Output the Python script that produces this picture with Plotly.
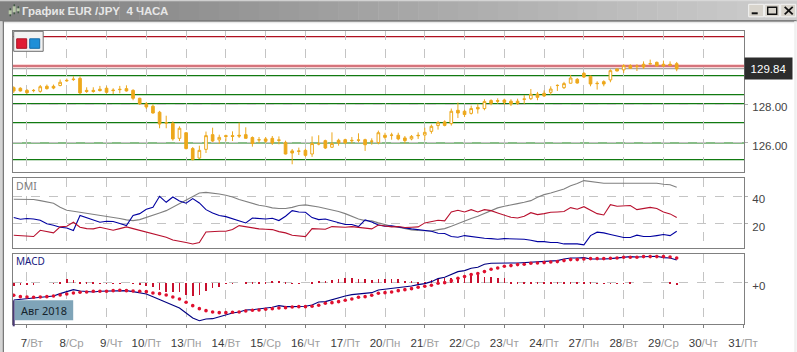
import plotly.graph_objects as go

W, H = 797, 352
ML, MR, MT, MB = 13.3, 52.7, 30.7, 28.3

day_labels = ["7/Вт", "8/Ср", "9/Чт", "10/Пт", "13/Пн", "14/Вт", "15/Ср", "16/Чт", "17/Пт", "20/Пн",
              "21/Вт", "22/Ср", "23/Чт", "24/Пт", "27/Пн", "28/Вт", "29/Ср", "30/Чт", "31/Пт"]
bars_per_day = 6
first_tick_bar = 2

high = [128.93,128.88,128.79,128.79,129.00,129.02,129.02,129.28,129.33,129.45,129.45,128.88,128.88,128.95,128.93,128.83,128.95,128.98,128.78,128.34,
        128.12,128.00,127.66,127.41,127.12,126.86,126.55,125.79,125.86,126.59,126.79,126.43,126.43,126.60,127.05,126.81,126.34,126.31,126.31,126.36,
        126.34,126.12,125.69,125.76,125.72,126.34,126.40,126.17,126.55,126.22,126.22,126.31,126.50,126.22,126.24,126.64,126.53,126.53,126.53,126.36,
        126.41,126.55,126.79,126.95,127.14,127.17,127.78,128.09,127.72,127.93,128.03,128.26,128.26,128.31,128.29,128.26,128.29,128.48,128.79,128.64,
        128.72,128.93,129.03,129.16,129.52,129.36,129.67,129.48,129.19,129.24,129.81,129.84,130.07,130.07,130.07,130.22,130.31,130.21,130.26,130.22,130.19]
low = [128.59,128.66,128.55,128.62,128.60,128.76,128.78,128.93,129.16,129.21,128.53,128.59,128.60,128.66,128.57,128.53,128.57,128.66,128.21,127.97,
       127.76,127.52,126.76,126.76,126.12,126.10,125.67,125.10,125.17,125.48,126.05,125.95,126.09,126.10,126.26,126.24,125.81,126.00,126.00,125.90,
       125.93,125.41,124.90,125.38,125.28,125.28,125.88,125.69,125.74,125.86,125.93,125.97,126.03,125.59,125.91,125.93,126.19,126.17,126.14,125.97,
       126.14,126.21,126.14,126.48,126.69,126.86,126.90,127.29,127.34,127.47,127.52,127.69,127.95,128.03,127.97,127.91,127.97,128.02,128.22,128.21,
       128.38,128.50,128.69,128.79,129.07,129.07,129.36,128.93,128.76,128.93,129.14,129.71,129.62,129.83,129.72,129.83,130.07,129.97,129.93,129.97,129.71]
open_ = [128.86,128.83,128.72,128.72,128.67,128.93,128.93,128.97,129.24,129.31,129.34,128.72,128.72,128.78,128.83,128.74,128.78,128.81,128.72,128.31,
         128.02,127.90,127.59,127.05,127.02,126.24,126.53,125.71,125.22,125.67,126.43,126.16,126.38,126.38,126.40,126.43,126.28,126.17,126.21,126.24,
         126.16,126.03,125.59,125.59,125.62,125.43,125.97,126.12,125.78,126.14,126.17,126.14,126.16,126.17,126.10,126.02,126.40,126.41,126.40,126.26,
         126.21,126.40,126.41,126.60,126.90,127.09,127.00,127.69,127.64,127.53,127.84,127.78,128.19,128.19,128.22,128.16,128.16,128.28,128.29,128.53,
         128.57,128.62,128.98,128.86,129.09,129.29,129.60,129.45,129.09,129.17,129.26,129.83,129.78,130.00,129.97,130.07,130.10,130.17,130.07,130.07,130.10]
close = [128.69,128.69,128.60,128.71,128.91,128.81,128.84,129.14,129.22,129.28,128.59,128.66,128.66,128.71,128.62,128.71,128.76,128.69,128.31,128.03,
         127.86,127.55,126.98,127.03,126.21,126.76,125.71,125.14,125.62,126.38,126.10,126.29,126.34,126.34,126.36,126.24,125.97,126.16,126.09,126.00,
         126.14,125.43,125.48,125.57,125.36,125.97,125.95,125.74,125.97,126.00,126.00,126.12,126.14,125.91,126.09,126.53,126.29,126.40,126.21,126.12,
         126.34,126.38,126.55,126.86,127.05,126.91,127.64,127.55,127.47,127.78,127.76,128.14,128.05,128.16,128.10,128.02,128.05,128.26,128.52,128.36,
         128.43,128.79,128.97,129.07,129.36,129.10,129.41,129.05,129.07,129.05,129.74,129.72,130.00,129.86,129.95,129.93,130.09,129.98,129.98,130.02,129.83]

red_levels = [131.50, 129.98]
current_price = 129.84
green_levels = [129.48, 128.50, 128.03, 127.05, 126.00, 125.14]

adx = [37.8,37.8,37.8,37.6,36.8,35.8,34.9,31.9,29.8,29.0,28.3,27.3,26.6,25.9,25.1,24.4,23.7,22.7,22.2,22.9,
       24.4,25.9,27.8,29.5,32.2,34.4,37.6,40.0,42.4,42.9,42.4,41.7,40.7,39.5,37.6,36.1,34.4,33.4,32.7,31.5,
       31.0,31.0,31.9,33.2,33.7,33.2,32.2,31.0,30.0,28.8,27.3,25.4,23.4,22.2,22.0,20.5,19.0,18.0,17.3,
       16.3,15.4,14.9,14.6,14.6,15.6,16.3,18.0,20.0,22.0,23.7,25.4,27.3,29.3,31.5,32.7,33.4,34.6,35.6,36.8,
       39.3,41.2,42.4,43.9,45.4,47.8,49.3,51.5,50.7,49.8,49.5,49.5,49.5,49.8,50.0,50.0,50.0,49.8,49.5,48.8,48.5,46.6]
di_plus = [24.4,23.2,23.7,23.4,22.4,19.8,18.8,17.3,16.8,14.9,25.9,24.4,22.9,21.0,21.7,21.5,20.0,18.5,25.9,27.3,
           30.5,31.9,40.0,35.6,39.5,36.6,34.9,38.3,35.1,30.2,27.8,25.9,25.1,23.7,22.0,20.5,24.1,23.9,23.4,23.9,
           22.2,25.4,29.5,28.5,28.3,24.4,22.9,23.4,22.2,20.5,19.3,19.3,17.8,22.7,21.2,19.0,18.0,18.3,17.3,
           16.8,16.1,15.6,14.6,14.4,12.9,12.7,10.5,10.0,11.2,10.5,10.2,9.3,9.0,8.5,9.0,9.0,9.0,8.5,7.8,
           6.8,6.8,6.1,6.1,5.1,5.1,5.1,4.4,11.2,13.7,13.2,12.0,11.0,9.8,9.8,11.5,10.5,10.5,11.2,12.0,11.2,14.4]
di_minus = [11.5,11.2,10.5,10.5,15.1,14.4,13.2,17.6,18.0,21.0,17.3,16.3,16.1,17.3,16.1,15.1,16.3,17.6,16.3,15.1,
            13.9,12.7,11.2,10.0,8.0,7.3,6.1,5.1,6.1,13.9,14.4,14.4,14.4,15.6,18.5,17.6,16.8,16.1,15.8,15.6,
            14.1,13.2,11.5,11.2,10.5,16.3,16.3,15.8,17.8,17.6,17.3,17.8,17.1,16.6,16.1,19.0,18.5,17.6,17.8,
            17.1,17.3,17.6,20.5,21.2,22.4,22.0,28.5,29.8,28.5,30.2,28.5,30.2,29.5,27.8,26.1,24.6,24.1,25.4,28.0,
            26.6,27.3,28.3,28.5,28.8,31.7,30.5,32.4,30.0,27.3,26.3,33.9,32.7,33.2,33.2,30.2,31.2,31.9,31.0,28.5,27.1,24.4]

macd_line = [-.51,-.49,-.49,-.47,-.45,-.42,-.39,-.32,-.26,-.20,-.24,-.26,-.27,-.25,-.24,-.25,-.24,-.23,-.26,-.29,
             -.33,-.41,-.50,-.58,-.67,-.75,-.90,-1.05,-1.13,-1.08,-1.07,-1.01,-.94,-.90,-.87,-.81,-.80,-.78,-.75,-.73,
             -.68,-.71,-.71,-.70,-.70,-.66,-.57,-.56,-.50,-.46,-.39,-.35,-.33,-.30,-.29,-.21,-.19,-.17,-.13,
             -.11,-.09,-.05,-.02,.04,.13,.17,.25,.34,.37,.44,.47,.56,.59,.60,.60,.60,.60,.61,.64,
             .65,.65,.67,.67,.72,.75,.75,.76,.72,.71,.72,.73,.75,.78,.79,.78,.79,.80,.80,.76,.75,.69]
macd_signal = [-.37,-.41,-.42,-.43,-.42,-.41,-.39,-.36,-.33,-.30,-.28,-.27,-.25,-.25,-.25,-.23,-.22,-.23,-.24,-.25,
               -.26,-.30,-.32,-.36,-.42,-.48,-.58,-.68,-.77,-.83,-.87,-.89,-.89,-.88,-.87,-.84,-.82,-.81,-.79,-.77,
               -.75,-.74,-.72,-.71,-.71,-.70,-.67,-.61,-.59,-.56,-.52,-.48,-.43,-.41,-.37,-.31,-.29,-.27,-.23,
               -.20,-.17,-.13,-.10,-.07,-.01,.01,.07,.14,.19,.25,.28,.34,.41,.45,.50,.52,.55,.56,.59,
               .60,.61,.63,.64,.67,.70,.70,.72,.73,.73,.73,.74,.75,.77,.77,.77,.79,.79,.79,.79,.78,.75]
macd_hist = [-.08,-.06,-.04,-.02,0,0,.01,.04,.12,.10,.04,.03,.02,.01,.01,.01,.01,0,-.01,-.02,
             -.07,-.10,-.20,-.25,-.27,-.27,-.36,-.37,-.35,-.22,-.15,-.12,-.01,.01,0,.02,.04,.03,.04,.08,
             .06,.02,.01,.01,0,.05,.07,.08,.11,.12,.15,.15,.14,.13,.11,.13,.14,.14,.14,
             .08,.07,.05,.04,.10,.13,.15,.16,.19,.24,.30,.24,.20,.18,.17,.15,.05,.05,.03,.03,
             .03,.03,.04,.04,.04,.05,.04,.04,.02,.01,.01,.01,.01,.01,.02,0,0,0,0,0,.03,-.06]

n = len(high)
for s in (low, open_, close, adx, di_plus, di_minus, macd_line, macd_signal, macd_hist):
    assert len(s) == n, len(s)
bars = list(range(n))
tick_bars = [first_tick_bar + k * bars_per_day for k in range(len(day_labels))]
tick_text = []
for s in day_labels:
    d, w = s.split("/")
    pad = "&nbsp;&nbsp;&nbsp;" if len(d) == 1 else ""
    tick_text.append('%s<span style="color:#3a3a3a">%s</span><span style="color:#a0a0a0">/%s</span>' % (pad, d, w))

ORANGE = "#eda81c"
AXFONT = "Liberation Sans"
PW, PH = W - ML - MR, H - MT - MB
def px(x): return (x - ML) / PW
def py(y): return 1 - (y - MT) / PH

fig = go.Figure()
fig.add_trace(go.Candlestick(x=bars, open=open_, high=high, low=low, close=close, xaxis="x", yaxis="y",
    whiskerwidth=0,
    increasing=dict(line=dict(color=ORANGE, width=1), fillcolor="#ffffff"),
    decreasing=dict(line=dict(color=ORANGE, width=1), fillcolor=ORANGE), showlegend=False, hoverinfo="skip"))
for ys, c in ((adx, "#808080"), (di_plus, "#0000a0"), (di_minus, "#b8102e")):
    fig.add_trace(go.Scatter(x=bars, y=ys, mode="lines", line=dict(color=c, width=1.1), xaxis="x2", yaxis="y2", showlegend=False, hoverinfo="skip"))
fig.add_trace(go.Bar(x=bars, y=macd_hist, width=0.1, marker=dict(color="#c8102e", line=dict(width=0)), xaxis="x3", yaxis="y3", showlegend=False, hoverinfo="skip"))
fig.add_trace(go.Scatter(x=bars, y=macd_line, mode="lines", line=dict(color="#000080", width=1.1), xaxis="x3", yaxis="y3", showlegend=False, hoverinfo="skip"))
fig.add_trace(go.Scatter(x=bars, y=macd_signal, mode="markers", marker=dict(color="#e0102f", size=3.6, symbol="circle"), xaxis="x3", yaxis="y3", showlegend=False, hoverinfo="skip"))

shapes = []
for lv in green_levels:
    shapes.append(dict(type="line", xref="paper", yref="y", x0=0, x1=1, y0=lv, y1=lv, line=dict(color="#117a11", width=1.2), layer="below"))
shapes.append(dict(type="line", xref="paper", yref="y", x0=0, x1=1, y0=red_levels[1], y1=red_levels[1], line=dict(color="#fbd8d8", width=4), layer="below"))
for lv in red_levels:
    shapes.append(dict(type="line", xref="paper", yref="y", x0=0, x1=1, y0=lv, y1=lv, line=dict(color="#b01020", width=1.2), layer="below"))
shapes.append(dict(type="line", xref="paper", yref="y", x0=0, x1=1, y0=current_price, y1=current_price, line=dict(color="#909090", width=1), layer="below"))

def rect(x0, y0, x1, y1, fill, line=None, lw=0):
    shapes.append(dict(type="rect", xref="paper", yref="paper", x0=px(x0), x1=px(x1), y0=py(y0), y1=py(y1),
                       fillcolor=fill, line=dict(color=line or fill, width=lw)))

# window chrome: title bar gradient, frame
strips = 40
for k in range(strips):
    t = k / (strips - 1)
    g = int(128 + t * (205 - 128))
    rect(W * k / strips, 0, W * (k + 1) / strips + 0.5, 20, "rgb(%d,%d,%d)" % (g, g, g))
rect(0, 0, W, 1, "#d8d8d8")
rect(0, 20, W, 21.5, "#5a5a5a")
rect(0, 21.5, W, 23, "#e8e8e8")
rect(0, 21, 3, H, "#d4d4d4")
rect(3, 21, 4.2, H, "#6a6a6a")
rect(794.5, 21, W, H, "#f0f0f0")
# title icon
for xa, ya, yb in ((10, 8, 16), (14, 4, 14), (18, 6, 13)):
    rect(xa, ya, xa + 1, yb, "#24482a")
    rect(xa - 1, ya + 2, xa + 2, yb - 2, "#b8c8a8")
# window buttons
for x0 in (749, 765, 781):
    rect(x0, 4, x0 + 15, 16.5, "#d8d4cc", "#f4f4f4", 1)
rect(752, 12, 758, 14, "#101010")
rect(768, 7, 777, 14, "#d8d4cc", "#101010", 1.4)
shapes.append(dict(type="line", xref="paper", yref="paper", x0=px(785), x1=px(793), y0=py(6.5), y1=py(14), line=dict(color="#101010", width=1.8)))
shapes.append(dict(type="line", xref="paper", yref="paper", x0=px(785), x1=px(793), y0=py(14), y1=py(6.5), line=dict(color="#101010", width=1.8)))
# one-click trading box
rect(14, 31, 43.5, 51, "#f2f2f2", "#6e6e6e", 1)
shapes.append(dict(type="rect", xref="paper", yref="paper", x0=px(17), x1=px(27), y0=py(38.5), y1=py(48), fillcolor="#e01c34", line=dict(color="#a81426", width=1)))
shapes.append(dict(type="rect", xref="paper", yref="paper", x0=px(30), x1=px(40), y0=py(38.5), y1=py(48), fillcolor="#1f8fd8", line=dict(color="#156ca8", width=1)))
# date badge
rect(13, 300, 15, 326, "#4a3a78")
rect(15, 300, 73.5, 320, "#7fa4b8")

annotations = [
    dict(text="<b>График EUR /JPY&nbsp;&nbsp;4 ЧАСА</b>", xref="paper", yref="paper", x=px(20.5), y=py(10.5), xanchor="left", yanchor="middle",
         showarrow=False, font=dict(family="Liberation Sans", size=11.5, color="#e6e6e6")),
    dict(text="129.84", xref="paper", yref="y", x=px(744.5), y=current_price, xanchor="left", yanchor="middle", showarrow=False,
         width=47, height=21, bgcolor="#2c2c2c", align="center", font=dict(family=AXFONT, size=11.5, color="#ffffff"), borderpad=0),
    dict(text="DMI", xref="paper", yref="paper", x=px(14), y=py(185.5), xanchor="left", yanchor="middle", showarrow=False, font=dict(family="Noto Sans", size=10.5, color="#808080")),
    dict(text="MACD", xref="paper", yref="paper", x=px(14), y=py(261), xanchor="left", yanchor="middle", showarrow=False, font=dict(family="Noto Sans", size=10, color="#1a1a80")),
    dict(text="Авг 2018", xref="paper", yref="paper", x=px(44.5), y=py(310), xanchor="center", yanchor="middle", showarrow=False, font=dict(family="Noto Sans", size=11, color="#16242c")),
]

xcommon = dict(range=[-0.11, 110.15], tickvals=tick_bars, showgrid=True, gridcolor="#c4c4c4", griddash="dash", gridwidth=1,
               showline=True, mirror=True, linecolor="#808080", linewidth=1, zeroline=False, rangeslider=dict(visible=False))
ycommon = dict(side="right", showgrid=True, gridcolor="#c4c4c4", griddash="dash", gridwidth=1, showline=True, mirror=True,
               linecolor="#808080", linewidth=1, zeroline=False, ticks="outside", ticklen=3, tickcolor="#b0b0b0",
               tickfont=dict(family=AXFONT, size=11.5, color="#444444"), ticklabelstandoff=2)

def dom(y_top, y_bot): return [py(y_bot), py(y_top)]

fig.update_layout(
    width=W, height=H, margin=dict(l=ML, r=MR, t=MT, b=MB, autoexpand=False), paper_bgcolor="#ffffff", plot_bgcolor="#ffffff",
    xaxis=dict(xcommon, domain=[0, 1], anchor="y", showticklabels=False, ticks=""),
    xaxis2=dict(xcommon, domain=[0, 1], anchor="y2", matches="x", showticklabels=False, ticks=""),
    xaxis3=dict(xcommon, domain=[0, 1], anchor="y3", matches="x", ticks="outside", ticklen=3, tickcolor="#808080", ticktext=tick_text,
                tickfont=dict(family=AXFONT, size=11.5), tickangle=0, ticklabelstandoff=5),
    yaxis=dict(ycommon, domain=dom(30.7, 171.3), anchor="x", range=[124.52, 131.79], tickvals=[126, 128], ticktext=["126.00", "128.00"], ticklabelshift=3),
    yaxis2=dict(ycommon, domain=dom(177.7, 247.3), anchor="x2", range=[2.4, 53.4], tickvals=[20, 40], ticktext=["20", "40"], ticklabelshift=3),
    yaxis3=dict(ycommon, domain=dom(253.3, 323.7), anchor="x3", range=[-1.23, 0.88], tickvals=[0], ticktext=["+0"], ticklabelshift=3),
    shapes=shapes, annotations=annotations, bargap=0, boxgap=0.6, boxgroupgap=0, showlegend=False,
)
fig.write_html("out.html", config={"displayModeBar": False}, post_script="document.body.style.margin='0';")
